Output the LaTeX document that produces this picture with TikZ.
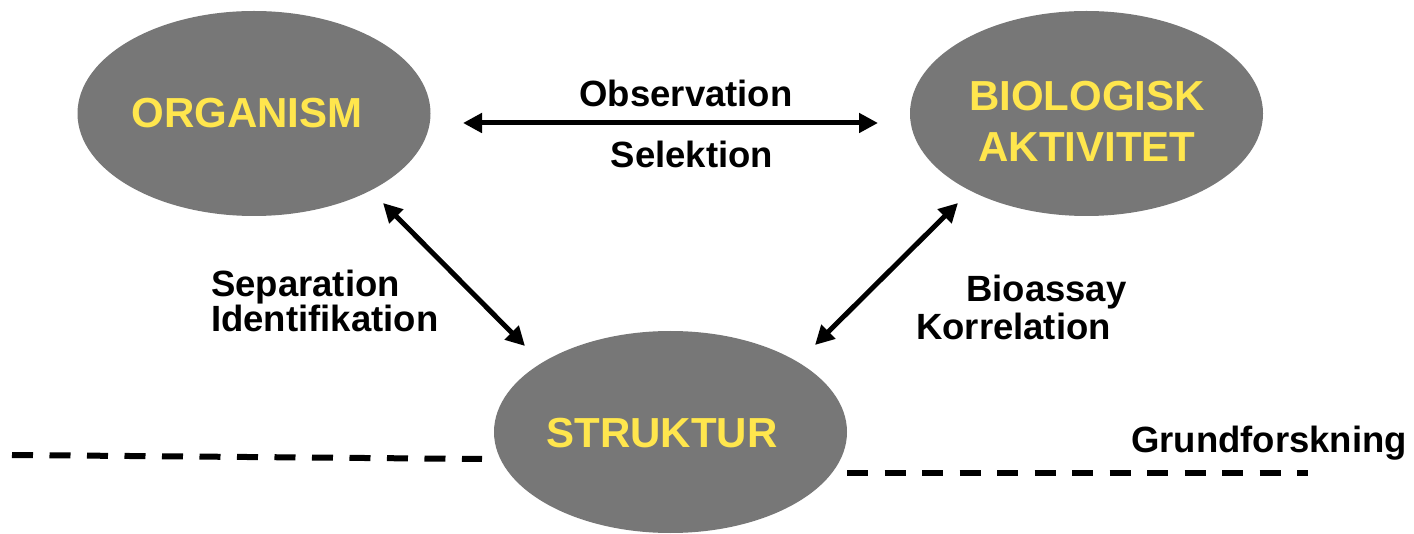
\documentclass[tikz,border=0pt]{standalone}
\usepackage{fontspec}
\setmainfont{Liberation Sans}
\usetikzlibrary{arrows.meta,shapes.geometric}
\definecolor{ellgray}{RGB}{119,119,119}
\definecolor{ellyellow}{RGB}{255,230,77}
\begin{document}
\begin{tikzpicture}[x=1pt,y=-1pt,
  blob/.style={ellipse, fill=ellgray, draw=none, inner sep=0pt, minimum width=353pt, minimum height=205pt},
  bigtext/.style={font=\fontsize{42}{51}\selectfont\bfseries, text=ellyellow, inner sep=0pt, anchor=base},
  lbl/.style={font=\fontsize{36.5}{43}\selectfont\bfseries, text=black, inner sep=0pt},
  biarrow/.style={line width=5pt, {Triangle[length=19pt,width=19pt]}-{Triangle[length=19pt,width=19pt]}},
  divider/.style={line width=6pt, dash pattern=on 21pt off 16.5pt}]
\fill[white] (0,0) rectangle (1414,534);
\useasboundingbox (0,0) rectangle (1414,534);

% ellipses
\node[blob] (org) at (254,113.5) {};
\node[blob] (bio) at (1086.5,113.5) {};
\node[blob, minimum height=202pt] (str) at (670.5,432) {};

% ellipse texts
\node[bigtext] (orgtxt) at (247,128) {ORGANISM};
\node[bigtext] (biotxt1) at (1087,111) {BIOLOGISK};
\node[bigtext] (biotxt2) at (1087,162) {AKTIVITET};
\node[bigtext] (strtxt) at (662,448) {STRUKTUR};

% dashed lines
\coordinate (dl1) at (12,455);
\coordinate (dl2) at (482,459);
\coordinate (dr1) at (847,473);
\coordinate (dr2) at (1308,473);
\draw[divider] (dl1) -- (dl2);
\draw[divider] (dr1) -- (dr2);

% arrows
\coordinate (a1) at (463,123);
\coordinate (a2) at (878,123);
\coordinate (b1) at (383,203);
\coordinate (b2) at (525,346);
\coordinate (c1) at (815,345);
\coordinate (c2) at (958,203);
\draw[biarrow] (a1) -- (a2);
\draw[biarrow] (b1) -- (b2);
\draw[biarrow] (c1) -- (c2);

% labels
\node[lbl, anchor=base] (obs) at (686,107) {Observation};
\node[lbl, anchor=base] (sel) at (692,168) {Selektion};
\node[lbl, anchor=base west] (sep) at (211,297) {Separation};
\node[lbl, anchor=base west] (ide) at (211,332) {Identifikation};
\node[lbl, anchor=base west] (bioa) at (966,302) {Bioassay};
\node[lbl, anchor=base west] (kor) at (916,340) {Korrelation};
\node[lbl, anchor=base west] (grund) at (1131,453) {Grundforskning};
\end{tikzpicture}
\end{document}
